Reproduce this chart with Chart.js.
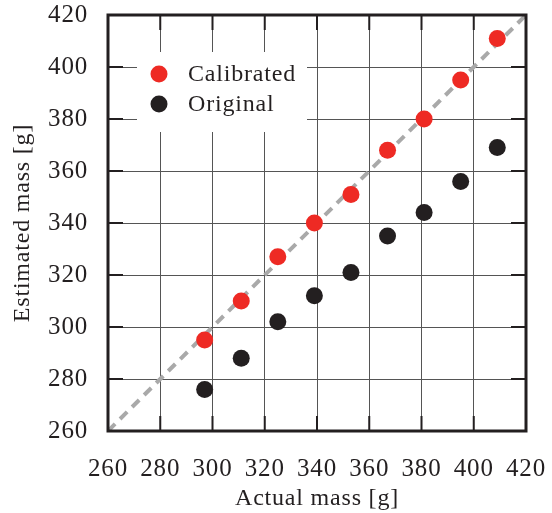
<!DOCTYPE html>
<html>
<head>
<meta charset="utf-8">
<script src="https://cdn.jsdelivr.net/npm/chart.js@4.4.1/dist/chart.umd.min.js"></script>
<style>html,body{margin:0;padding:0;background:#fff}</style>
</head>
<body>
<canvas id="c" width="552" height="513"></canvas>
<script>
const actual=[297,311,325,339,353,367,381,395,409];
const calibrated=[295,310,327,340,351,368,380,395,411];
const original=[276,288,302,312,321,335,344,356,369];
const ideal=[260,420];
const ticks=[260,280,300,320,340,360,380,400,420];
const seriesNames=['Calibrated','Original'];

const ink='#231f20', font={family:'"Liberation Serif", "Times New Roman", serif', size:24};
const tickFont={family:font.family, size:25};
const spacing={id:'spacing', beforeLayout(c){c.ctx.letterSpacing='0.8px';}, beforeDraw(c){c.ctx.letterSpacing='0.8px';}};
const frame={id:'frame', afterDraw(c){
  const {ctx,chartArea:a,scales:{x,y}}=c; ctx.save(); ctx.letterSpacing='0px';
  ctx.strokeStyle=ink; ctx.lineWidth=2;
  ticks.forEach(v=>{ const px=x.getPixelForValue(v), py=y.getPixelForValue(v);
    ctx.beginPath(); ctx.moveTo(px,a.bottom); ctx.lineTo(px,a.bottom-15); ctx.moveTo(px,a.top); ctx.lineTo(px,a.top+15);
    ctx.moveTo(a.left,py); ctx.lineTo(a.left+15,py); ctx.moveTo(a.right,py); ctx.lineTo(a.right-15,py); ctx.stroke(); });
  ctx.lineWidth=3; ctx.strokeRect(a.left,a.top,a.right-a.left,a.bottom-a.top);
  // legend box
  const lx=a.left+29, ly=a.top+37; ctx.fillStyle='#fff'; ctx.fillRect(lx,ly,170,80);
  ctx.letterSpacing='0.8px'; ctx.font='24px "Liberation Serif", serif'; ctx.textBaseline='middle';
  c.data.datasets.slice(0,2).forEach((d,i)=>{ const cy=ly+22+i*30;
    ctx.fillStyle=d.backgroundColor; ctx.beginPath(); ctx.arc(lx+22,cy,8.5,0,Math.PI*2); ctx.fill();
    ctx.fillStyle=ink; ctx.fillText(d.label,lx+51,cy+1); });
  ctx.restore(); }};
const noPad=s=>{s.paddingTop=0;s.paddingBottom=0;s.paddingLeft=0;s.paddingRight=0;};

new Chart(document.getElementById('c'),{
  type:'scatter',
  data:{datasets:[
    {label:seriesNames[0],data:actual.map((v,i)=>({x:v,y:calibrated[i]})),backgroundColor:'#ee2a24',pointRadius:8.5,pointBorderWidth:0,order:1},
    {label:seriesNames[1],data:actual.map((v,i)=>({x:v,y:original[i]})),backgroundColor:'#231f20',pointRadius:8.5,pointBorderWidth:0,order:2},
    {type:'line',label:'y=x',data:ideal.map(v=>({x:v,y:v})),borderColor:'#a9a9a9',borderWidth:4,borderDash:[10,7],pointRadius:0,fill:false,order:3}
  ]},
  options:{responsive:false,animation:false,events:[],
    layout:{padding:{top:15,right:26,left:0,bottom:0},autoPadding:false},
    plugins:{legend:{display:false},tooltip:{enabled:false}},
    scales:{
      x:{type:'linear',min:260,max:420,afterFit(s){s.height=82;noPad(s);},
        afterBuildTicks(s){s.ticks=ticks.map(v=>({value:v}));},
        grid:{color:'#555',lineWidth:1,drawTicks:false},border:{display:false},
        ticks:{color:ink,font:tickFont,padding:23,maxRotation:0},
        title:{display:true,text:'Actual mass [g]',color:ink,font,padding:{top:0,bottom:0}}},
      y:{type:'linear',min:260,max:420,afterFit(s){s.width=108;noPad(s);},
        afterBuildTicks(s){s.ticks=ticks.map(v=>({value:v}));},
        grid:{color:'#555',lineWidth:1,drawTicks:false},border:{display:false},
        ticks:{color:ink,font:tickFont,padding:20},
        title:{display:true,text:'Estimated mass [g]',color:ink,font,padding:{top:8,bottom:0}}}
    }},
  plugins:[spacing,frame]
});
</script>
</body>
</html>
